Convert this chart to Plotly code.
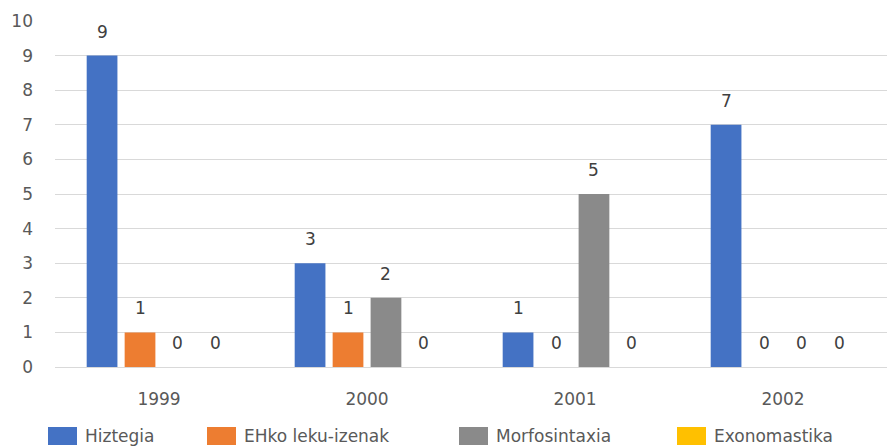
import plotly.graph_objects as go

# Categories and series values
years = ["1999", "2000", "2001", "2002"]
hiztegia = [9, 3, 1, 7]
ehko_leku_izenak = [1, 1, 0, 0]
morfosintaxia = [0, 2, 5, 0]
exonomastika = [0, 0, 0, 0]

series = [
    ("Hiztegia", hiztegia, "#4472C4"),
    ("EHko leku-izenak", ehko_leku_izenak, "#ED7D31"),
    ("Morfosintaxia", morfosintaxia, "#8A8A8A"),
    ("Exonomastika", exonomastika, "#FFC000"),
]

FONT = "DejaVu Sans"
FONT_SIZE = 17
TEXT_COLOR = "#595959"
BARGAP = 0.27

W, H = 892, 448
ML, MR, MT, MB = 55, 5, 21, 81
PW, PH = W - ML - MR, H - MT - MB


def px_x(x):
    """pixel column -> paper x"""
    return (x - ML) / PW


def px_y(y):
    """pixel row -> paper y"""
    return (H - MB - y) / PH


fig = go.Figure()
for name, vals, color in series:
    fig.add_trace(go.Bar(name=name, x=years, y=vals, marker_color=color,
                         marker_line_width=0, showlegend=False))

# Value labels above each bar
slot = (1 - BARGAP) / len(series)
annotations = []
for i, (name, vals, color) in enumerate(series):
    off = (i - (len(series) - 1) / 2) * slot
    for j, v in enumerate(vals):
        annotations.append(dict(x=j + off, y=v, xref="x", yref="y", text=str(v),
                                showarrow=False, yshift=24, yanchor="middle",
                                font=dict(family=FONT, size=FONT_SIZE, color="#404040")))

# Legend row below the axis: swatch + label per series
legend_left = [48, 207, 459, 677]
shapes = []
for (name, vals, color), lx in zip(series, legend_left):
    shapes.append(dict(type="rect", xref="paper", yref="paper",
                       x0=px_x(lx), x1=px_x(lx + 29), y0=px_y(445), y1=px_y(427),
                       fillcolor=color, line_width=0))
    annotations.append(dict(x=px_x(lx + 35), y=px_y(436), xref="paper", yref="paper",
                            text=name, showarrow=False, xanchor="left", yanchor="middle",
                            font=dict(family=FONT, size=FONT_SIZE, color=TEXT_COLOR)))

fig.update_layout(
    width=W, height=H,
    margin=dict(l=ML, r=MR, t=MT, b=MB),
    paper_bgcolor="white", plot_bgcolor="white",
    barmode="group", bargap=BARGAP, bargroupgap=0.19,
    font=dict(family=FONT, size=FONT_SIZE, color=TEXT_COLOR),
    annotations=annotations,
    shapes=shapes,
    showlegend=False,
)
fig.update_xaxes(type="category", showgrid=False, showline=False, ticks="",
                 ticklabelstandoff=20,
                 tickfont=dict(family=FONT, size=FONT_SIZE, color=TEXT_COLOR))
fig.update_yaxes(range=[0, 10], dtick=1, showgrid=True, gridcolor="#D9D9D9",
                 gridwidth=1, zeroline=True, zerolinecolor="#D9D9D9",
                 zerolinewidth=1, showline=False, ticks="", ticklabelstandoff=21,
                 tickfont=dict(family=FONT, size=FONT_SIZE, color=TEXT_COLOR))

fig.write_html("out.html")
